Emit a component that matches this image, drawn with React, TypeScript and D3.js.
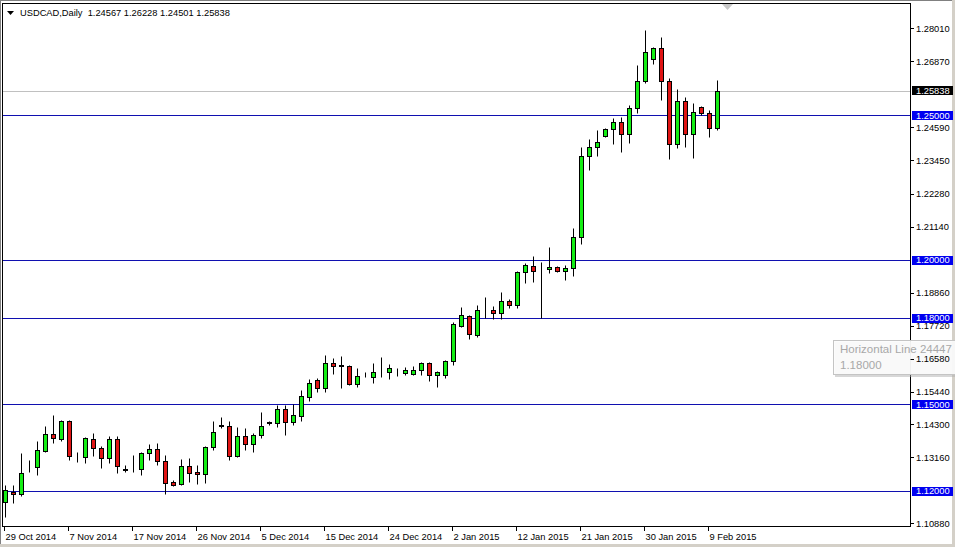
import React from "react";
import * as d3 from "d3";

const opens = [1.1162,1.1197,1.1190,1.1280,1.1283,1.1338,1.1397,1.1380,1.1442,1.1318,1.1318,1.1380,1.1349,1.1314,1.1380,1.1276,1.1273,1.1276,1.1332,1.1345,1.1304,1.1231,1.1224,1.1287,1.1266,1.1259,1.1352,1.1425,1.1425,1.1321,1.1390,1.1363,1.1394,1.1435,1.1435,1.1484,1.1439,1.1460,1.1525,1.1584,1.1556,1.1643,1.1635,1.1633,1.1570,1.1595,1.1595,1.1615,1.1612,1.1612,1.1608,1.1605,1.1619,1.1643,1.1601,1.1601,1.1650,1.1771,1.1806,1.1740,1.1826,1.1826,1.1816,1.1857,1.1844,1.1958,1.1979,1.1965,1.1968,1.1975,1.1961,1.1972,1.2079,1.2359,1.2390,1.2428,1.2453,1.2477,1.2435,1.2525,1.2619,1.2695,1.2733,1.2619,1.2401,1.2549,1.2435,1.2529,1.2508,1.24567];
const highs = [1.1221,1.1221,1.1332,1.1307,1.1373,1.1425,1.1463,1.1446,1.1446,1.1335,1.1387,1.1401,1.1356,1.1390,1.1390,1.1290,1.1325,1.1335,1.1363,1.1366,1.1325,1.1238,1.1311,1.1314,1.1290,1.1356,1.1442,1.1456,1.1442,1.1421,1.1418,1.1401,1.1473,1.1442,1.1498,1.1498,1.1501,1.1550,1.1588,1.1591,1.1671,1.1660,1.1667,1.1636,1.1626,1.1612,1.1643,1.1664,1.1639,1.1626,1.1629,1.1633,1.1646,1.1646,1.1615,1.1653,1.1785,1.1837,1.1809,1.1844,1.1871,1.1840,1.1889,1.1864,1.1961,1.1989,1.2013,1.1992,1.2044,1.1979,1.1982,1.2110,1.2390,1.2418,1.2449,1.2456,1.2491,1.2494,1.2536,1.2674,1.2795,1.2736,1.2771,1.2629,1.2591,1.2563,1.2543,1.2532,1.2518,1.26228];
const lows = [1.1110,1.1159,1.1183,1.1266,1.1255,1.1335,1.1366,1.1373,1.1307,1.1300,1.1297,1.1321,1.1280,1.1297,1.1262,1.1266,1.1266,1.1255,1.1307,1.1290,1.1190,1.1217,1.1221,1.1231,1.1224,1.1228,1.1342,1.1418,1.1307,1.1318,1.1342,1.1335,1.1383,1.1428,1.1421,1.1394,1.1428,1.1442,1.1511,1.1543,1.1543,1.1605,1.1556,1.1567,1.1560,1.1594,1.1574,1.1595,1.1588,1.1598,1.1601,1.1601,1.1601,1.1581,1.1560,1.1591,1.1636,1.1767,1.1726,1.1733,1.1798,1.1795,1.1795,1.1833,1.1833,1.1920,1.1923,1.1799,1.1954,1.1958,1.1930,1.1944,1.2055,1.2311,1.2359,1.2425,1.2401,1.2373,1.2404,1.2508,1.2612,1.2677,1.2553,1.2349,1.2387,1.2390,1.2352,1.2501,1.2425,1.24501];
const closes = [1.1204,1.1190,1.1262,1.1281,1.1342,1.1397,1.1383,1.1442,1.1321,1.1316,1.1383,1.1349,1.1314,1.1380,1.1287,1.1274,1.1274,1.1332,1.1345,1.1304,1.1228,1.1221,1.1287,1.1262,1.1259,1.1352,1.1404,1.1427,1.1321,1.1390,1.1363,1.1394,1.1425,1.1437,1.1484,1.1439,1.1463,1.1529,1.1574,1.1556,1.1643,1.1633,1.1633,1.1570,1.1598,1.1596,1.1612,1.1616,1.1626,1.1613,1.1619,1.1619,1.1643,1.1601,1.1612,1.1650,1.1778,1.1809,1.1743,1.1826,1.1827,1.1816,1.1857,1.1844,1.1958,1.1982,1.1961,1.1964,1.1975,1.1961,1.1972,1.2079,1.2359,1.2390,1.2408,1.2453,1.2477,1.2435,1.2525,1.2619,1.2719,1.2733,1.2619,1.2401,1.2549,1.2435,1.2511,1.2508,1.2456,1.25838];

const dateTickIndex = [0, 8, 16, 24, 32, 40, 48, 56, 64, 72, 80, 88];
const dateTickLabels = ["29 Oct 2014","7 Nov 2014","17 Nov 2014","26 Nov 2014","5 Dec 2014","15 Dec 2014","24 Dec 2014","2 Jan 2015","12 Jan 2015","21 Jan 2015","30 Jan 2015","9 Feb 2015"];
const priceTicks = [1.2801, 1.2687, 1.2459, 1.2345, 1.2228, 1.2114, 1.1886, 1.1772, 1.1658, 1.1544, 1.1430, 1.1316, 1.1088];
const levelLines = [1.25, 1.2, 1.18, 1.15, 1.12];
const currentPrice = 1.25838;
const titleText = "USDCAD,Daily  1.24567 1.26228 1.24501 1.25838";
const tooltipLines = ["Horizontal Line 24447", "1.18000"];

const W = 955, H = 547;
const L = 2.5, T = 3.5, R = 910.5, B = 526.5;
const FONT = "'Liberation Sans', Arial, sans-serif";

export default function App() {
  const x = d3.scaleLinear().domain([0, opens.length - 1]).range([5.5, 5.5 + 8 * (opens.length - 1)]);
  const y = d3.scaleLinear().domain([1.1088, 1.2801]).range([523.3, 28.3]);
  const py = (v: number) => Math.round(y(v)) + 0.5;
  const fmt = d3.format(".5f");

  return (
    <svg width={W} height={H} style={{ position: "absolute", left: 0, top: 0, display: "block" }}>
      <rect x={0} y={0} width={W} height={H} fill="#ffffff" />
      {/* window borders */}
      <rect x={952} y={0} width={3} height={H} fill="#d4d0c8" />
      <rect x={0} y={544} width={W} height={3} fill="#d4d0c8" />
      <line x1={0.5} y1={0} x2={0.5} y2={544} stroke="#808080" />
      <line x1={0} y1={0.5} x2={952} y2={0.5} stroke="#808080" />

      {/* current price line */}
      <line x1={L} x2={R} y1={py(currentPrice)} y2={py(currentPrice)} stroke="#c0c0c0" />

      {/* horizontal level lines */}
      {levelLines.map((v) => (
        <line key={v} x1={L} x2={R} y1={py(v)} y2={py(v)} stroke="#1010b0" />
      ))}

      {/* candles */}
      {opens.map((o, i) => {
        const c = closes[i];
        const cx = x(i);
        const top = py(Math.max(o, c));
        const bot = py(Math.min(o, c));
        const up = c >= o;
        return (
          <g key={i}>
            <line x1={cx} x2={cx} y1={py(highs[i])} y2={py(lows[i])} stroke="#000" />
            <rect x={cx - 2} y={top} width={4} height={Math.max(0, bot - top)}
              fill={up ? "#14ee14" : "#e01414"} stroke="#000" />
          </g>
        );
      })}

      {/* frame */}
      <rect x={L} y={T} width={R - L} height={B - T} fill="none" stroke="#000" />

      {/* chart shift marker */}
      <path d="M722,4 L733,4 L727.5,10 Z" fill="#c8c8c8" />

      {/* title */}
      <path d="M7,11 L14,11 L10.5,15 Z" fill="#000" />
      <text x={20} y={16} fontFamily={FONT} fontSize={9.3} fill="#000" style={{ whiteSpace: "pre" }}>{titleText}</text>

      {/* tooltip */}
      <rect x={835} y={342} width={125} height={35} fill="#b0b0b0" opacity={0.5} />
      <rect x={833.5} y={340.5} width={125} height={34} fill="#fcfcfc" fillOpacity={0.92} stroke="#c4c4c4" />
      <text x={840} y={353} fontFamily={FONT} fontSize={11.5} fill="#a8a8a8">{tooltipLines[0]}</text>
      <text x={840} y={369} fontFamily={FONT} fontSize={11.5} fill="#a8a8a8">{tooltipLines[1]}</text>

      {/* price axis */}
      {priceTicks.map((v) => (
        <g key={v}>
          <line x1={R} x2={914} y1={py(v)} y2={py(v)} stroke="#000" />
          <text x={916} y={y(v) + 3.5} fontFamily={FONT} fontSize={9.3} fill="#000">{fmt(v)}</text>
        </g>
      ))}
      {levelLines.map((v) => (
        <g key={"lb" + v}>
          <rect x={912} y={Math.round(y(v)) - 4} width={41} height={9} fill="#0000f0" />
          <text x={916} y={y(v) + 3.5} fontFamily={FONT} fontSize={9.3} fill="#fff">{fmt(v)}</text>
        </g>
      ))}
      <rect x={912} y={Math.round(y(currentPrice)) - 5} width={41} height={9} fill="#000" />
      <text x={916} y={y(currentPrice) + 3} fontFamily={FONT} fontSize={9.3} fill="#fff">{fmt(currentPrice)}</text>

      {/* date axis */}
      {dateTickIndex.map((idx, k) => (
        <g key={idx}>
          <line x1={x(idx) - 1} x2={x(idx) - 1} y1={B} y2={531} stroke="#000" />
          <text x={x(idx)} y={540} fontFamily={FONT} fontSize={9.3} fill="#000">{dateTickLabels[k]}</text>
        </g>
      ))}
    </svg>
  );
}
